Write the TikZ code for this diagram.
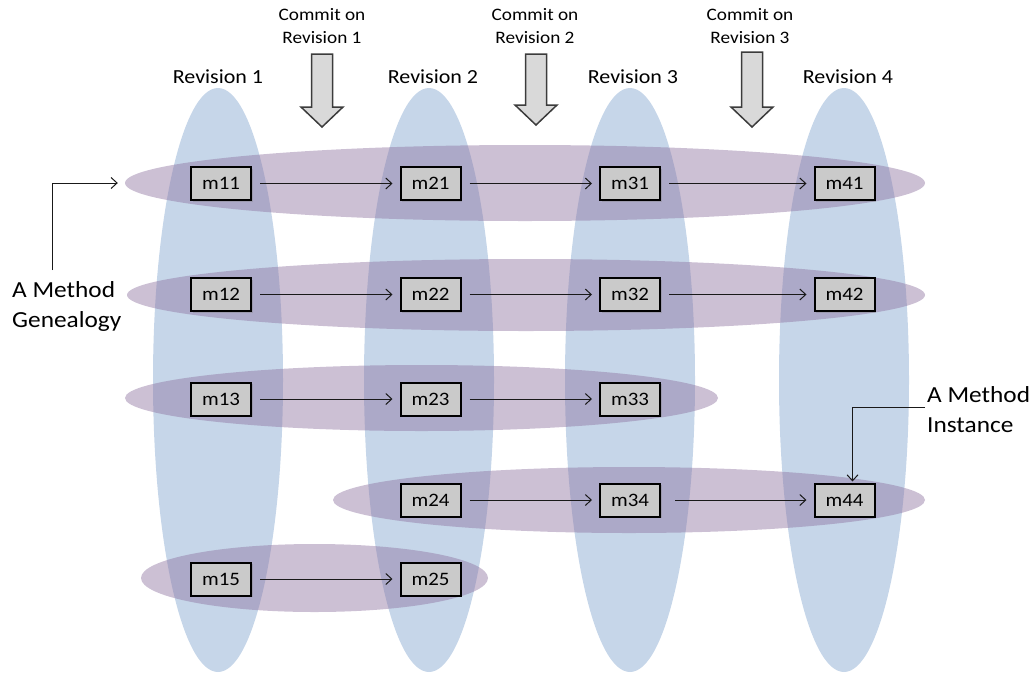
\documentclass[tikz,border=0pt]{standalone}
\usepackage{fontspec}
\setmainfont{Carlito}[FakeStretch=1.1]
\usetikzlibrary{shapes.geometric,arrows.meta,shadows}
\definecolor{revblue}{RGB}{198,214,233}
\definecolor{genpurple}{RGB}{142,115,160}
\definecolor{boxgray}{RGB}{202,202,202}
\definecolor{arrowgray}{RGB}{217,217,217}
\definecolor{arrowedge}{RGB}{60,60,60}
\tikzset{
  revell/.style={ellipse, fill=revblue, inner sep=0pt, minimum width=130pt, minimum height=584pt},
  genell/.style={ellipse, fill=genpurple, fill opacity=0.45, inner sep=0pt},
  mbox/.style={draw=black, line width=2pt, fill=boxgray, minimum width=60pt, minimum height=33pt, inner sep=0pt,
    font=\fontsize{19}{20}\selectfont, drop shadow={shadow xshift=1.5pt, shadow yshift=-1.5pt, opacity=0.35}},
  flow/.style={draw=black!90, line width=1pt, -{Straight Barb[length=6pt,width=11pt,line width=1pt]}, shorten <=8pt, shorten >=7pt},
  revlabel/.style={anchor=base, inner sep=0pt, font=\fontsize{20}{24}\selectfont},
  commitlabel/.style={anchor=base, inner sep=0pt, align=center, font=\fontsize{17.5}{23}\selectfont},
  sidelabel/.style={anchor=base west, inner sep=0pt, align=left, font=\fontsize{23}{30}\selectfont},
  blockarrow/.style={draw=arrowedge, line width=1.5pt, fill=arrowgray, line join=miter}
}
\begin{document}
\begin{tikzpicture}[x=1pt,y=-1pt]
\useasboundingbox (0,0) rectangle (1034,673);
% revision ellipses
\node[revell] (rev1) at (218,380) {};
\node[revell] (rev2) at (429,380) {};
\node[revell] (rev3) at (630,380) {};
\node[revell] (rev4) at (844,380) {};
% genealogy ellipses
\node[genell, minimum width=800pt, minimum height=76pt] (gen1) at (525,183) {};
\node[genell, minimum width=798pt, minimum height=72pt] (gen2) at (526,295) {};
\node[genell, minimum width=593pt, minimum height=66pt] (gen3) at (421.5,398) {};
\node[genell, minimum width=592pt, minimum height=66pt] (gen4) at (629,500) {};
\node[genell, minimum width=347pt, minimum height=68pt] (gen5) at (314.5,578) {};
% labels
\node[revlabel] (r1) at (218,83) {Revision 1};
\node[revlabel] (r2) at (433,83) {Revision 2};
\node[revlabel] (r3) at (633,83) {Revision 3};
\node[revlabel] (r4) at (848,83) {Revision 4};
\node[commitlabel] (c1) at (322,43) {Commit on\\Revision 1};
\node[commitlabel] (c2) at (535,43) {Commit on\\Revision 2};
\node[commitlabel] (c3) at (750,43) {Commit on\\Revision 3};
% block arrows
\draw[blockarrow, shift={(322,0)}] (-10.5,54) -- (10.5,54) -- (10.5,107) -- (21,107) -- (0,127) -- (-21,107) -- (-10.5,107) -- cycle;
\draw[blockarrow, shift={(536,0)}] (-10.5,54) -- (10.5,54) -- (10.5,105) -- (21,105) -- (0,125) -- (-21,105) -- (-10.5,105) -- cycle;
\draw[blockarrow, shift={(752,0)}] (-10.5,52) -- (10.5,52) -- (10.5,107) -- (21,107) -- (0,127) -- (-21,107) -- (-10.5,107) -- cycle;
% method boxes
\node[mbox] (m11) at (221,183.5) {m11};
\node[mbox] (m21) at (430.5,183.5) {m21};
\node[mbox] (m31) at (630,183.5) {m31};
\node[mbox] (m41) at (844.5,183.5) {m41};
\node[mbox] (m12) at (221,294.5) {m12};
\node[mbox] (m22) at (430.5,294.5) {m22};
\node[mbox] (m32) at (630,294.5) {m32};
\node[mbox] (m42) at (844.5,294.5) {m42};
\node[mbox] (m13) at (221,399) {m13};
\node[mbox] (m23) at (430.5,399) {m23};
\node[mbox] (m33) at (630,399) {m33};
\node[mbox] (m24) at (430.5,500) {m24};
\node[mbox] (m34) at (630,500) {m34};
\node[mbox] (m44) at (844.5,500) {m44};
\node[mbox] (m15) at (221,579) {m15};
\node[mbox] (m25) at (430.5,579) {m25};
% flows
\draw[flow] (m11) -- (m21);
\draw[flow] (m21) -- (m31);
\draw[flow] (m31) -- (m41);
\draw[flow] (m12) -- (m22);
\draw[flow] (m22) -- (m32);
\draw[flow] (m32) -- (m42);
\draw[flow] (m13) -- (m23);
\draw[flow] (m23) -- (m33);
\draw[flow] (m24) -- (m34);
\draw[flow, shorten <=14pt] (m34) -- (m44);
\draw[flow] (m15) -- (m25);
% side labels
\node[sidelabel] (genlab) at (12,327) {A Method\\Genealogy};
\node[sidelabel] (instlab) at (927,432) {A Method\\Instance};
\coordinate (gstart) at (52,270);
\coordinate (istart) at (925,407);
\draw[flow, shorten <=0pt] (gstart) |- (gen1.west);
\draw[flow, shorten <=0pt, shorten >=1pt] (istart) -| ([xshift=8pt]m44.north);
\end{tikzpicture}
\end{document}
